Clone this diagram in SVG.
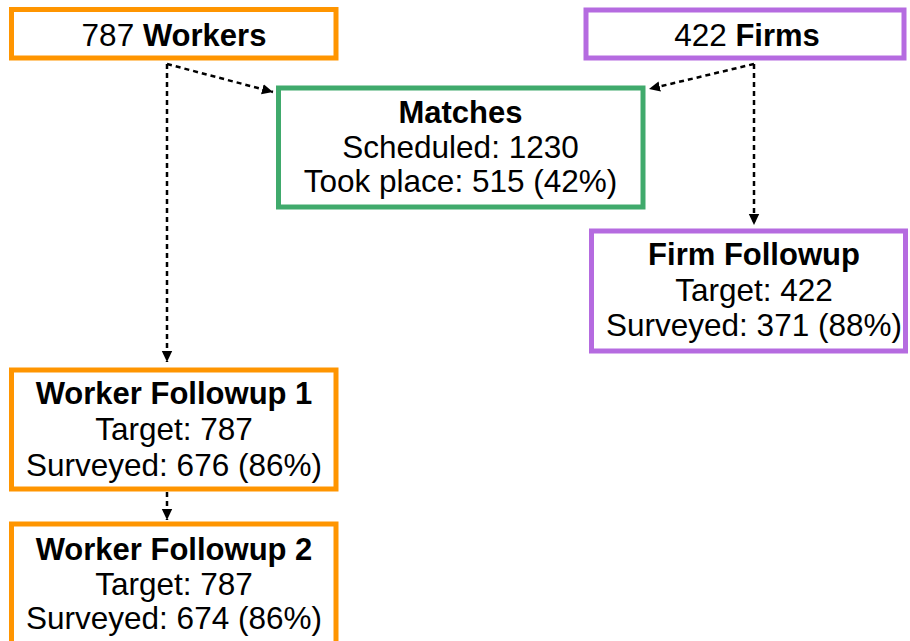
<svg xmlns="http://www.w3.org/2000/svg" width="910" height="641" viewBox="0 0 910 641">
<style>
.box{fill:#fff;stroke-width:5}
.org{stroke:#ff9500}
.pur{stroke:#b56be0}
.grn{stroke:#40aa6c}
text{font-family:"Liberation Sans",Arial,Helvetica,sans-serif;font-size:31.5px;fill:#000;text-anchor:middle}
.b{font-weight:bold;font-size:31px}
.con{fill:none;stroke:#000;stroke-width:2.5;stroke-dasharray:5 4}
</style>
<defs>
<marker id="ah" markerUnits="userSpaceOnUse" markerWidth="12" markerHeight="12" viewBox="0 0 12 12" refX="11" refY="6" orient="auto">
<path d="M0,0.8 L11,6 L0,11.2 Z" fill="#000"/>
</marker>
</defs>
<rect width="910" height="641" fill="#fff"/>
<g id="connectors">
<path class="con" d="M167,64 L167,362" marker-end="url(#ah)"/>
<path class="con" d="M167,64 L273,92" marker-end="url(#ah)"/>
<path class="con" d="M754,64 L649,89" marker-end="url(#ah)"/>
<path class="con" d="M754,64 L754,225" marker-end="url(#ah)"/>
<path class="con" d="M167,492 L167,520" marker-end="url(#ah)"/>
</g>
<g id="workers">
<rect class="box org" x="11.5" y="9.5" width="324.5" height="48.5"/>
<text x="174" y="46">787 <tspan class="b">Workers</tspan></text>
</g>
<g id="firms">
<rect class="box pur" x="586" y="10" width="318" height="48"/>
<text x="747" y="46">422 <tspan class="b">Firms</tspan></text>
</g>
<g id="matches">
<rect class="box grn" x="278.5" y="88" width="364.5" height="119"/>
<text class="b" x="460.5" y="123">Matches</text>
<text x="460.5" y="158">Scheduled: 1230</text>
<text x="460.5" y="192">Took place: 515 (42%)</text>
</g>
<g id="firm-followup">
<rect class="box pur" x="591.5" y="231" width="314" height="120"/>
<text class="b" x="754" y="265">Firm Followup</text>
<text x="754" y="301">Target: 422</text>
<text x="754" y="336">Surveyed: 371 (88%)</text>
</g>
<g id="worker-followup-1">
<rect class="box org" x="11.5" y="370" width="324.5" height="119"/>
<text class="b" x="174" y="404">Worker Followup 1</text>
<text x="174" y="440">Target: 787</text>
<text x="174" y="476">Surveyed: 676 (86%)</text>
</g>
<g id="worker-followup-2">
<rect class="box org" x="11.5" y="524" width="324.5" height="130"/>
<text class="b" x="174" y="560">Worker Followup 2</text>
<text x="174" y="595">Target: 787</text>
<text x="174" y="629">Surveyed: 674 (86%)</text>
</g>
</svg>
